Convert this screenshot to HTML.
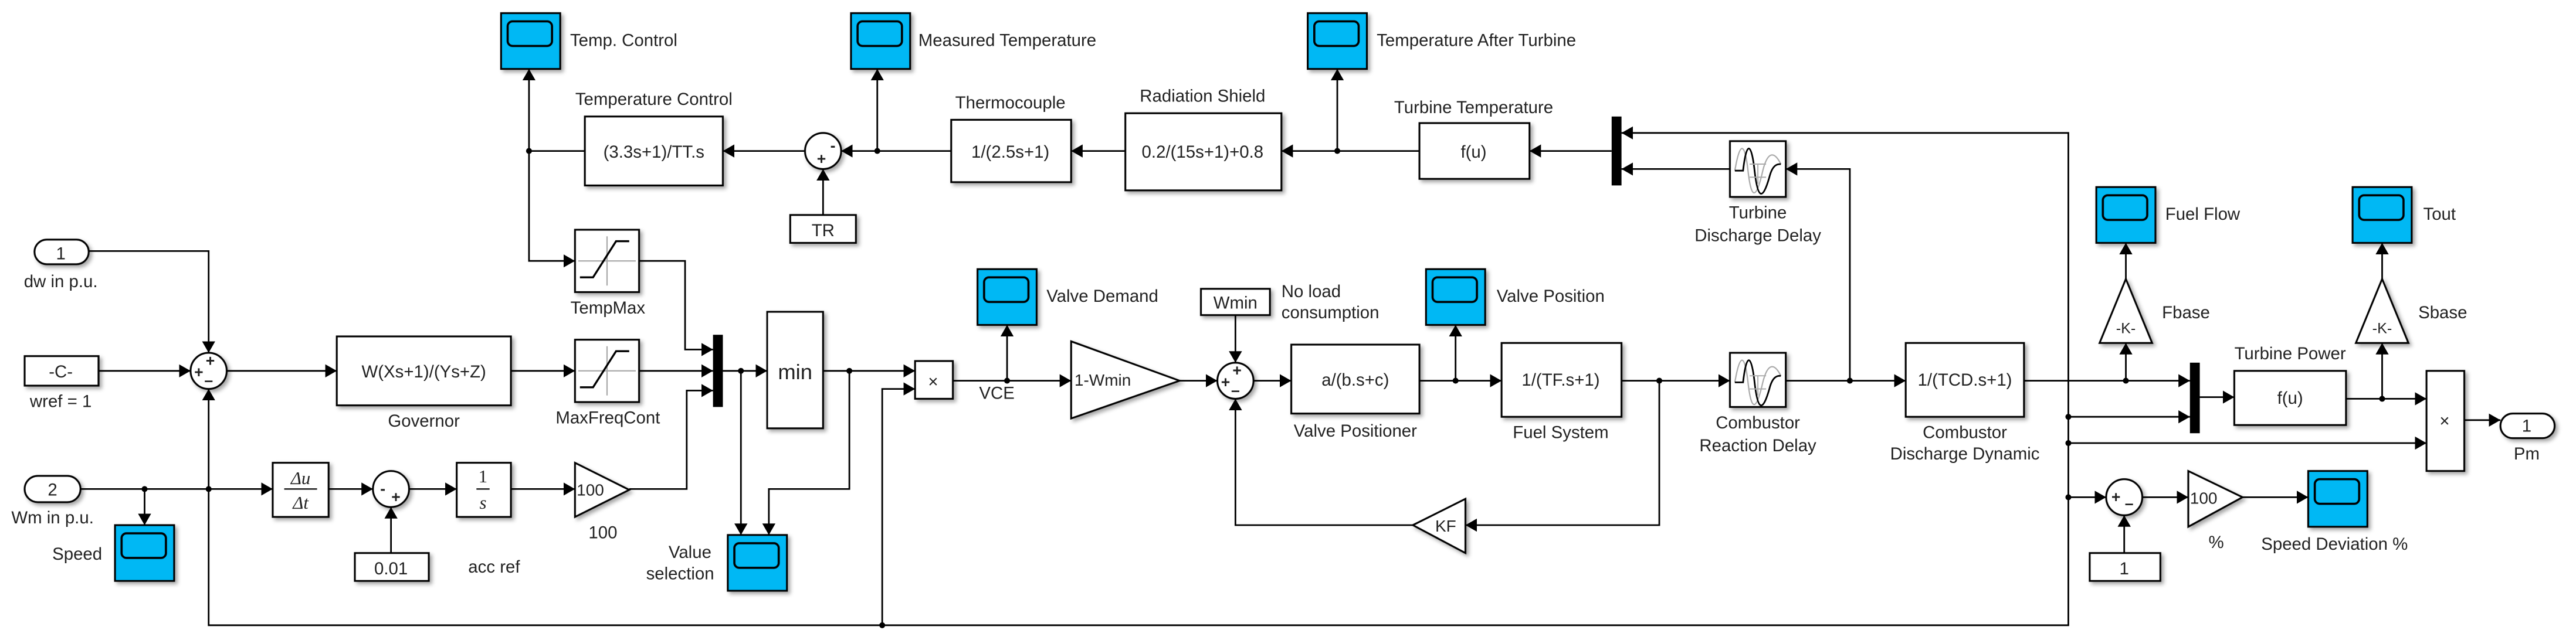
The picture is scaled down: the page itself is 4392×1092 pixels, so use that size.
<!DOCTYPE html>
<html><head><meta charset="utf-8"><style>
html,body{margin:0;padding:0;background:#fff;overflow:hidden}
svg{display:block}
text{font-family:"Liberation Sans",sans-serif;fill:#222}
</style></head><body>
<svg width="4392" height="1092" viewBox="0 0 1568 390" preserveAspectRatio="none" xmlns="http://www.w3.org/2000/svg">
<defs>
<marker id="a" markerUnits="userSpaceOnUse" markerWidth="8" markerHeight="8" refX="7" refY="4" orient="auto"><path d="M0,0 L7,4 L0,8 Z" fill="#000"/></marker>
<filter id="sh" x="-20%" y="-20%" width="150%" height="150%"><feDropShadow dx="1.5" dy="1.5" stdDeviation="1.2" flood-color="#000" flood-opacity="0.35"/></filter>
<g id="scope"><rect x="0" y="0" width="36" height="34" fill="#00b8f4" stroke="#000" stroke-width="1.1"/><rect x="4" y="5" width="27" height="15" rx="3" fill="#00b8f4" stroke="#000" stroke-width="1.3"/></g>
<g id="sat"><line x1="19.5" y1="4" x2="19.5" y2="34" stroke="#aaa" stroke-width="0.8"/><line x1="2" y1="19" x2="37" y2="19" stroke="#aaa" stroke-width="0.8"/><path d="M3,29 L11,29 L25,7 L33,7" fill="none" stroke="#000" stroke-width="1.2"/></g>
<g id="dly"><path d="M3,18 C6,0 9,0 11,18 C13,36 16,36 20,18 C23,6 27,6 31,14" fill="none" stroke="#aaa" stroke-width="0.8"/><path d="M3,18 L8,18 C10,0 13,0 15,18 C17,36 20,36 24,22 C26,14 29,14 31,14" fill="none" stroke="#000" stroke-width="1"/><path d="M12,14 L22,14 M12,22 L22,22 M17,14 L17,26" stroke="#aaa" stroke-width="0.7"/></g>
</defs>

<g fill="#fff" stroke="#000" stroke-width="1.1" filter="url(#sh)">
<use href="#scope" x="305" y="8"/>
<use href="#scope" x="518" y="8"/>
<use href="#scope" x="796" y="8"/>
<use href="#scope" x="595" y="164"/>
<use href="#scope" x="868" y="164"/>
<use href="#scope" x="1276" y="114"/>
<use href="#scope" x="1432" y="114"/>
<use href="#scope" x="70" y="320"/>
<use href="#scope" x="443" y="326"/>
<use href="#scope" x="1405" y="287"/>
<rect x="356" y="71" width="84" height="42"/>
<rect x="481" y="131" width="40" height="17"/>
<rect x="579" y="73" width="73" height="38"/>
<rect x="685" y="69" width="95" height="47"/>
<rect x="864" y="75" width="67" height="34"/>
<rect x="15" y="217" width="45" height="18"/>
<rect x="205" y="205" width="106" height="42"/>
<rect x="350" y="207" width="39" height="38"/>
<rect x="350" y="140" width="39" height="38"/>
<rect x="467" y="190" width="34" height="71"/>
<rect x="166" y="282" width="34" height="33"/>
<rect x="278" y="282" width="33" height="33"/>
<rect x="216" y="337" width="45" height="17"/>
<rect x="557" y="220" width="23" height="23"/>
<rect x="731" y="176" width="42" height="16"/>
<rect x="786" y="210" width="78" height="42"/>
<rect x="914" y="209" width="73" height="45"/>
<rect x="1053" y="86" width="34" height="34"/>
<rect x="1053" y="215" width="34" height="33"/>
<rect x="1160" y="209" width="72" height="45"/>
<rect x="1360" y="226" width="68" height="33"/>
<rect x="1477" y="226" width="23" height="61"/>
<rect x="1272" y="337" width="43" height="17"/>
<rect x="21" y="146" width="33" height="15" rx="7.5"/>
<rect x="15" y="290" width="34" height="16" rx="8"/>
<rect x="1522" y="252" width="33" height="15" rx="7.5"/>
<circle cx="127" cy="226" r="11"/>
<circle cx="501" cy="92" r="11"/>
<circle cx="238" cy="298" r="11"/>
<circle cx="752" cy="232" r="11"/>
<circle cx="1293" cy="303" r="11"/>
<path d="M350,282 L383,298.5 L350,315 Z"/>
<path d="M652,208 L718,232 L652,255 Z"/>
<path d="M892,304 L860,320 L892,337 Z"/>
<path d="M1294,170 L1310,209 L1278,209 Z"/>
<path d="M1450,170 L1466,209 L1434,209 Z"/>
<path d="M1332,287 L1365,303 L1332,321 Z"/>
</g>
<g fill="#000">
<rect x="434" y="204" width="6" height="44"/>
<rect x="981" y="71" width="6" height="42"/>
<rect x="1333" y="221" width="6" height="43"/>
</g>
<use href="#sat" x="350" y="207"/>
<use href="#sat" x="350" y="140"/>
<use href="#dly" x="1053" y="86"/>
<use href="#dly" x="1053" y="215"/>

<g fill="none" stroke="#000" stroke-width="1">
<polyline points="54,153 127,153 127,215" marker-end="url(#a)"/>
<polyline points="60,226 116,226" marker-end="url(#a)"/>
<polyline points="138,226 205,226" marker-end="url(#a)"/>
<polyline points="311,226 350,226" marker-end="url(#a)"/>
<polyline points="389,226 434,226" marker-end="url(#a)"/>
<polyline points="389,159 417,159 417,213 434,213" marker-end="url(#a)"/>
<polyline points="383,298 418,298 418,238 434,238" marker-end="url(#a)"/>
<polyline points="49,298 166,298" marker-end="url(#a)"/>
<polyline points="88,298 88,320" marker-end="url(#a)"/>
<polyline points="127,298 127,237" marker-end="url(#a)"/>
<polyline points="127,298 127,381 1259,381 1259,81 987,81" marker-end="url(#a)"/>
<polyline points="200,298 227,298" marker-end="url(#a)"/>
<polyline points="249,298 278,298" marker-end="url(#a)"/>
<polyline points="311,298 350,298" marker-end="url(#a)"/>
<polyline points="238,337 238,309" marker-end="url(#a)"/>
<polyline points="440,226 467,226" marker-end="url(#a)"/>
<polyline points="451,226 451,326" marker-end="url(#a)"/>
<polyline points="501,226 557,226" marker-end="url(#a)"/>
<polyline points="517,226 517,298 468,298 468,326" marker-end="url(#a)"/>
<polyline points="537,381 537,237 557,237" marker-end="url(#a)"/>
<polyline points="580,232 652,232" marker-end="url(#a)"/>
<polyline points="613,232 613,198" marker-end="url(#a)"/>
<polyline points="718,232 741,232" marker-end="url(#a)"/>
<polyline points="752,192 752,221" marker-end="url(#a)"/>
<polyline points="763,232 786,232" marker-end="url(#a)"/>
<polyline points="864,232 914,232" marker-end="url(#a)"/>
<polyline points="886,232 886,198" marker-end="url(#a)"/>
<polyline points="987,232 1053,232" marker-end="url(#a)"/>
<polyline points="1010,232 1010,320 892,320" marker-end="url(#a)"/>
<polyline points="860,320 752,320 752,243" marker-end="url(#a)"/>
<polyline points="1087,232 1160,232" marker-end="url(#a)"/>
<polyline points="1126,232 1126,103 1087,103" marker-end="url(#a)"/>
<polyline points="1053,103 987,103" marker-end="url(#a)"/>
<polyline points="981,92 931,92" marker-end="url(#a)"/>
<polyline points="864,92 780,92" marker-end="url(#a)"/>
<polyline points="814,92 814,42" marker-end="url(#a)"/>
<polyline points="685,92 652,92" marker-end="url(#a)"/>
<polyline points="579,92 512,92" marker-end="url(#a)"/>
<polyline points="534,92 534,42" marker-end="url(#a)"/>
<polyline points="501,131 501,103" marker-end="url(#a)"/>
<polyline points="490,92 440,92" marker-end="url(#a)"/>
<polyline points="356,92 322,92 322,42" marker-end="url(#a)"/>
<polyline points="322,92 322,159 350,159" marker-end="url(#a)"/>
<polyline points="1232,232 1333,232" marker-end="url(#a)"/>
<polyline points="1294,232 1294,209" marker-end="url(#a)"/>
<polyline points="1294,170 1294,148" marker-end="url(#a)"/>
<polyline points="1259,254 1333,254" marker-end="url(#a)"/>
<polyline points="1259,270 1477,270" marker-end="url(#a)"/>
<polyline points="1259,303 1282,303" marker-end="url(#a)"/>
<polyline points="1339,242 1360,242" marker-end="url(#a)"/>
<polyline points="1428,243 1477,243" marker-end="url(#a)"/>
<polyline points="1450,243 1450,209" marker-end="url(#a)"/>
<polyline points="1450,170 1450,148" marker-end="url(#a)"/>
<polyline points="1500,256 1522,256" marker-end="url(#a)"/>
<polyline points="1304,303 1332,303" marker-end="url(#a)"/>
<polyline points="1365,303 1405,303" marker-end="url(#a)"/>
<polyline points="1293,337 1293,314" marker-end="url(#a)"/>
</g>
<g fill="#000">
<circle cx="88" cy="298" r="1.8"/><circle cx="127" cy="298" r="1.8"/>
<circle cx="451" cy="226" r="1.8"/><circle cx="517" cy="226" r="1.8"/>
<circle cx="537" cy="381" r="1.8"/><circle cx="613" cy="232" r="1.8"/>
<circle cx="886" cy="232" r="1.8"/><circle cx="1010" cy="232" r="1.8"/>
<circle cx="1126" cy="232" r="1.8"/><circle cx="814" cy="92" r="1.8"/>
<circle cx="534" cy="92" r="1.8"/><circle cx="322" cy="92" r="1.8"/>
<circle cx="1294" cy="232" r="1.8"/><circle cx="1259" cy="254" r="1.8"/>
<circle cx="1259" cy="270" r="1.8"/><circle cx="1259" cy="303" r="1.8"/>
<circle cx="1450" cy="243" r="1.8"/>
</g>

<g font-size="9.5" text-anchor="middle" style="font-weight:bold">
<text x="128" y="223">+</text><text x="121" y="230">+</text><text x="127" y="235">–</text>
<text x="507" y="92">-</text><text x="500" y="100">+</text>
<text x="233" y="301">-</text><text x="241" y="306">+</text>
<text x="753" y="229">+</text><text x="746" y="236">+</text><text x="752" y="241">–</text>
<text x="1288" y="306">+</text><text x="1296" y="310">–</text>
</g>

<g font-size="10.5" text-anchor="middle">
<text x="398" y="96">(3.3s+1)/TT.s</text>
<text x="501" y="144">TR</text>
<text x="615" y="96">1/(2.5s+1)</text>
<text x="732" y="96">0.2/(15s+1)+0.8</text>
<text x="897" y="96">f(u)</text>
<text x="37" y="158">1</text>
<text x="32" y="302">2</text>
<text x="37" y="230">-C-</text>
<text x="258" y="230">W(Xs+1)/(Ys+Z)</text>
<text x="484" y="231" font-size="13">min</text>
<text x="238" y="350">0.01</text>
<text x="568" y="236">×</text>
<text x="752" y="188">Wmin</text>
<text x="825" y="235">a/(b.s+c)</text>
<text x="950" y="235">1/(TF.s+1)</text>
<text x="1196" y="235">1/(TCD.s+1)</text>
<text x="1394" y="246">f(u)</text>
<text x="1488" y="260">×</text>
<text x="1538" y="263">1</text>
<text x="1293" y="350">1</text>
<text x="1294" y="203" font-size="9">-K-</text>
<text x="1450" y="203" font-size="9">-K-</text>
<text x="880" y="324" font-size="10">KF</text>
</g>
<g font-size="10" text-anchor="start">
<text x="351" y="302">100</text>
<text x="1333" y="307">100</text>
<text x="654" y="235">1-Wmin</text>
</g>
<g text-anchor="middle" font-size="11" font-style="italic">
<text x="183" y="295" style="font-family:'Liberation Serif',serif">Δu</text>
<line x1="173" y1="298" x2="193" y2="298" stroke="#000" stroke-width="0.8"/>
<text x="183" y="310" style="font-family:'Liberation Serif',serif">Δt</text>
<text x="294" y="294" style="font-family:'Liberation Serif',serif;font-style:normal">1</text>
<line x1="290" y1="298" x2="298" y2="298" stroke="#000" stroke-width="0.8"/>
<text x="294" y="310" style="font-family:'Liberation Serif',serif">s</text>
</g>

<g font-size="10.5">
<text x="347" y="28">Temp. Control</text>
<text x="559" y="28">Measured Temperature</text>
<text x="838" y="28">Temperature After Turbine</text>
<text x="398" y="64" text-anchor="middle">Temperature Control</text>
<text x="615" y="66" text-anchor="middle">Thermocouple</text>
<text x="732" y="62" text-anchor="middle">Radiation Shield</text>
<text x="897" y="69" text-anchor="middle">Turbine Temperature</text>
<text x="37" y="175" text-anchor="middle">dw in p.u.</text>
<text x="37" y="248" text-anchor="middle">wref = 1</text>
<text x="258" y="260" text-anchor="middle">Governor</text>
<text x="370" y="258" text-anchor="middle">MaxFreqCont</text>
<text x="370" y="191" text-anchor="middle">TempMax</text>
<text x="32" y="319" text-anchor="middle">Wm in p.u.</text>
<text x="47" y="341" text-anchor="middle">Speed</text>
<text x="285" y="349">acc ref</text>
<text x="367" y="328" text-anchor="middle">100</text>
<text x="420" y="340" text-anchor="middle">Value</text>
<text x="414" y="353" text-anchor="middle">selection</text>
<text x="637" y="184">Valve Demand</text>
<text x="596" y="243">VCE</text>
<text x="780" y="181">No load</text>
<text x="780" y="194">consumption</text>
<text x="911" y="184">Valve Position</text>
<text x="825" y="266" text-anchor="middle">Valve Positioner</text>
<text x="950" y="267" text-anchor="middle">Fuel System</text>
<text x="1070" y="133" text-anchor="middle">Turbine</text>
<text x="1070" y="147" text-anchor="middle">Discharge Delay</text>
<text x="1070" y="261" text-anchor="middle">Combustor</text>
<text x="1070" y="275" text-anchor="middle">Reaction Delay</text>
<text x="1196" y="267" text-anchor="middle">Combustor</text>
<text x="1196" y="280" text-anchor="middle">Discharge Dynamic</text>
<text x="1318" y="134">Fuel Flow</text>
<text x="1316" y="194">Fbase</text>
<text x="1475" y="134">Tout</text>
<text x="1472" y="194">Sbase</text>
<text x="1394" y="219" text-anchor="middle">Turbine Power</text>
<text x="1538" y="280" text-anchor="middle">Pm</text>
<text x="1349" y="334" text-anchor="middle">%</text>
<text x="1421" y="335" text-anchor="middle">Speed Deviation %</text>
</g>
</svg>
</body></html>
